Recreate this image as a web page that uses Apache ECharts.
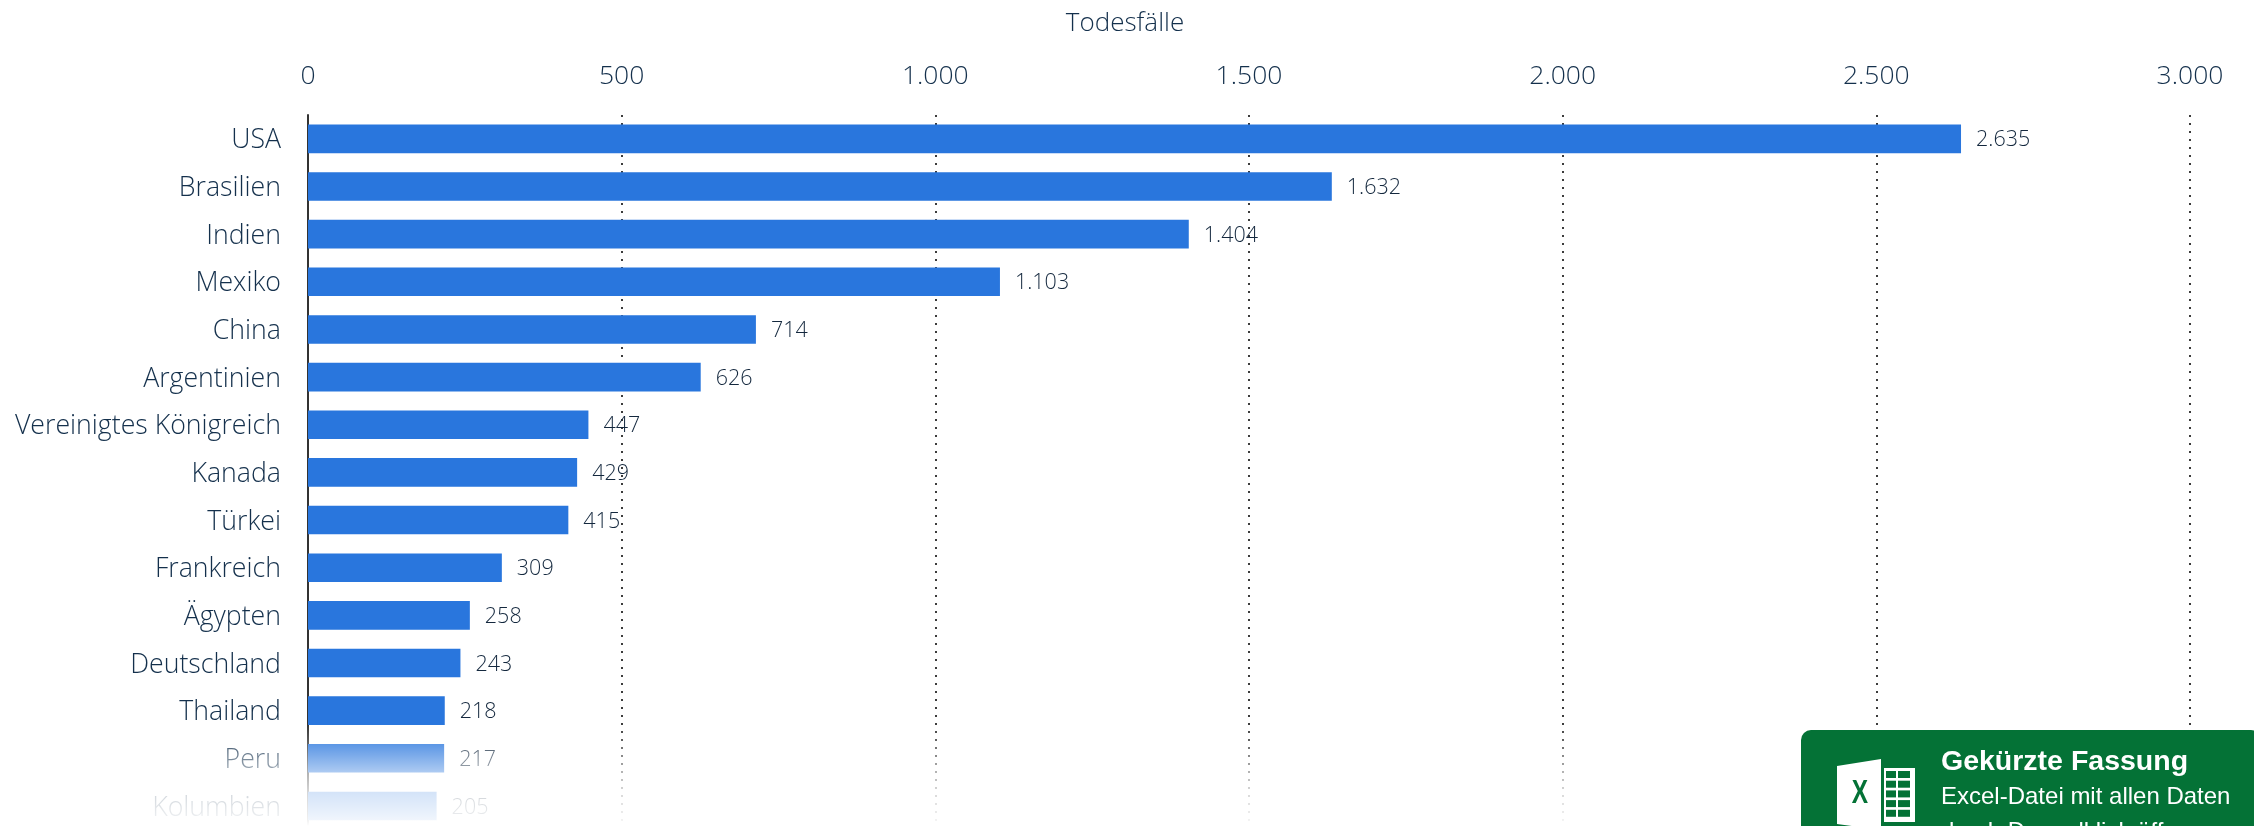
<!DOCTYPE html>
<html>
<head>
<meta charset="utf-8">
<style>html,body{margin:0;padding:0;background:#fff;overflow:hidden;height:826px}#chart{width:2254px;height:860px}</style>
<script src="https://cdn.jsdelivr.net/npm/echarts@6/dist/echarts.min.js"></script>
</head>
<body>
<div id="chart"></div>
<script>
// Todesfälle je Land
const categories = ['USA','Brasilien','Indien','Mexiko','China','Argentinien','Vereinigtes Königreich','Kanada','Türkei','Frankreich','Ägypten','Deutschland','Thailand','Peru','Kolumbien'];
const deaths = [2635,1632,1404,1103,714,626,447,429,415,309,258,243,218,217,205];
const axisTitle = 'Todesfälle';
const bannerTitle = 'Gekürzte Fassung';
const bannerLines = ['Excel-Datei mit allen Daten','durch Doppelklick öffnen'];

const thousands = v => String(v).replace(/\B(?=(\d{3})+$)/g, '.');
const FONT = '"Open Sans"';
const INK = '#14304c';
const GREEN = '#047236';

const chart = echarts.init(document.getElementById('chart'), null, {renderer:'canvas'});
chart.setOption({
  animation:false,
  backgroundColor:'#ffffff',
  title:{text:axisTitle,left:1120,top:6,textAlign:'center',
    textStyle:{fontFamily:FONT,fontWeight:300,fontSize:26,color:INK}},
  grid:{left:308,top:115,width:1882,height:714.75,containLabel:false},
  xAxis:{
    type:'value',position:'top',min:0,max:3000,interval:500,
    axisLine:{show:false},axisTick:{show:false},
    axisLabel:{formatter:thousands,fontFamily:FONT,fontWeight:300,fontSize:26.5,color:INK,margin:25},
    splitLine:{show:true,lineStyle:{color:'#3c3c3c',width:2,type:[2,6]}}
  },
  yAxis:{
    type:'category',inverse:true,data:categories,
    axisLine:{show:true,onZero:false,lineStyle:{color:'#333333',width:2}},
    axisTick:{show:false},
    axisLabel:{margin:27,formatter:v=>`{name|${v}}`,
      rich:{name:{fontFamily:FONT,fontWeight:300,fontSize:26.7,color:INK,padding:[4,0,0,0]}}}
  },
  series:[{
    type:'bar',data:deaths,barWidth:28.6,
    itemStyle:{color:'#2976dd'},
    label:{show:true,position:'right',distance:15,formatter:p=>`{v|${thousands(p.value)}}`,
      rich:{v:{fontFamily:FONT,fontWeight:300,fontSize:21.5,color:'#14283e',padding:[3,0,0,0]}}}
  }],
  graphic:[
    // weiche Ausblendung am unteren Rand
    {type:'rect',z:100,shape:{x:0,y:724,width:2254,height:102},
      style:{fill:new echarts.graphic.LinearGradient(0,0,0,1,[
        {offset:0,color:'rgba(255,255,255,0)'},
        {offset:0.2,color:'rgba(255,255,255,0.24)'},
        {offset:0.47,color:'rgba(255,255,255,0.61)'},
        {offset:0.67,color:'rgba(255,255,255,0.8)'},
        {offset:0.94,color:'rgba(255,255,255,0.93)'},
        {offset:1,color:'rgba(255,255,255,1)'}])}},
    {type:'rect',z:100,shape:{x:0,y:826,width:2254,height:34},style:{fill:'#ffffff'}},
    // Hinweisfeld
    {type:'rect',z:110,shape:{x:1801,y:730,width:460,height:120,r:10},style:{fill:GREEN}},
    // Tabellen-Symbol
    {type:'polygon',z:111,shape:{points:[[1837,766],[1881,759],[1881,830],[1837,824]]},style:{fill:'#ffffff'}},
    {type:'rect',z:111,shape:{x:1884,y:768,width:31,height:54},style:{fill:'#ffffff'}},
    ...[0,1,2,3,4].map(i=>[0,1].map(j=>({type:'rect',z:112,
      shape:{x:j?1898:1886,y:771+i*9.7,width:j?12:10,height:7},style:{fill:GREEN}}))).flat(),
    {type:'text',z:112,originX:1860,originY:794,scaleX:0.72,style:{x:1860,y:794,text:'X',align:'center',verticalAlign:'middle',
      font:'bold 34px "Liberation Sans"',fill:GREEN}},
    {type:'text',z:112,style:{x:1941,y:762,text:bannerTitle,verticalAlign:'middle',
      font:'bold 28.5px "Liberation Sans"',fill:'#ffffff'}},
    {type:'text',z:112,style:{x:1941,y:797,text:bannerLines[0],verticalAlign:'middle',
      font:'24px "Liberation Sans"',fill:'#ffffff'}},
    {type:'text',z:112,style:{x:1941,y:832,text:bannerLines[1],verticalAlign:'middle',
      font:'24px "Liberation Sans"',fill:'#ffffff'}}
  ]
});
</script>
</body>
</html>
